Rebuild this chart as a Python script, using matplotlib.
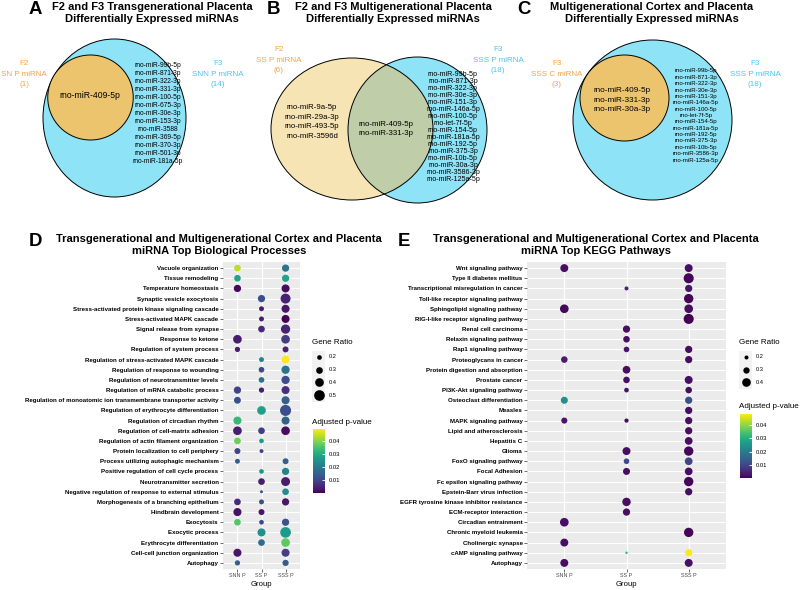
import numpy as np
import matplotlib.pyplot as plt
from matplotlib.patches import Ellipse, Rectangle
from matplotlib.colors import Normalize
from matplotlib.cm import ScalarMappable

plt.rcParams['font.family'] = ['Liberation Sans', 'DejaVu Sans']

W, H = 800, 590

# ---------------- Venn contents ----------------
a_f2_only = []
a_shared = ['rno-miR-409-5p']
a_f3_only = ['rno-miR-99b-5p', 'rno-miR-871-3p', 'rno-miR-322-3p', 'rno-miR-331-3p',
             'rno-miR-100-5p', 'rno-miR-675-3p', 'rno-miR-30e-3p', 'rno-miR-153-3p',
             'rno-miR-3588', 'rno-miR-369-5p', 'rno-miR-370-3p', 'rno-miR-501-3p',
             'rno-miR-181a-5p']

b_f2_only = ['rno-miR-9a-5p', 'rno-miR-29a-3p', 'rno-miR-493-5p', 'rno-miR-3596d']
b_shared = ['rno-miR-409-5p', 'rno-miR-331-3p']
b_f3_only = ['rno-miR-99b-5p', 'rno-miR-871-3p', 'rno-miR-322-3p', 'rno-miR-30e-3p',
             'rno-miR-151-3p', 'rno-miR-146a-5p', 'rno-miR-100-5p', 'rno-let-7f-5p',
             'rno-miR-154-5p', 'rno-miR-181a-5p', 'rno-miR-192-5p', 'rno-miR-375-3p',
             'rno-miR-10b-5p', 'rno-miR-30a-3p', 'rno-miR-3586-3p', 'rno-miR-125a-5p']

c_c_only = []
c_shared = ['rno-miR-409-5p', 'rno-miR-331-3p', 'rno-miR-30a-3p']
c_p_only = ['rno-miR-99b-5p', 'rno-miR-871-3p', 'rno-miR-322-3p', 'rno-miR-30e-3p',
            'rno-miR-151-3p', 'rno-miR-146a-5p', 'rno-miR-100-5p', 'rno-let-7f-5p',
            'rno-miR-154-5p', 'rno-miR-181a-5p', 'rno-miR-192-5p', 'rno-miR-375-3p',
            'rno-miR-10b-5p', 'rno-miR-3586-3p', 'rno-miR-125a-5p']

# ---------------- D: biological processes ----------------
groups = ['SNN P', 'SS P', 'SSS P']
N = None
bp_terms = ['Vacuole organization', 'Tissue remodeling', 'Temperature homeostasis',
            'Synaptic vesicle exocytosis', 'Stress-activated protein kinase signaling cascade',
            'Stress-activated MAPK cascade', 'Signal release from synapse', 'Response to ketone',
            'Regulation of system process', 'Regulation of stress-activated MAPK cascade',
            'Regulation of response to wounding', 'Regulation of neurotransmitter levels',
            'Regulation of mRNA catabolic process',
            'Regulation of monoatomic ion transmembrane transporter activity',
            'Regulation of erythrocyte differentiation', 'Regulation of circadian rhythm',
            'Regulation of cell-matrix adhesion', 'Regulation of actin filament organization',
            'Protein localization to cell periphery', 'Process utilizing autophagic mechanism',
            'Positive regulation of cell cycle process', 'Neurotransmitter secretion',
            'Negative regulation of response to external stimulus',
            'Morphogenesis of a branching epithelium', 'Hindbrain development', 'Exocytosis',
            'Exocytic process', 'Erythrocyte differentiation', 'Cell-cell junction organization',
            'Autophagy']
bp_ratio_snn = [0.30, 0.30, 0.33, N, N, N, N, 0.40, 0.23, N, N, N, 0.33, 0.31, N,
                0.37, 0.40, 0.30, 0.265, 0.215, N, N, N, 0.30, 0.37, 0.30, N, N, 0.37, 0.23]
bp_padj_snn = [0.044, 0.029, 0.001, N, N, N, N, 0.004, 0.004, N, N, N, 0.010, 0.012, N,
               0.033, 0.004, 0.038, 0.010, 0.015, N, N, N, 0.006, 0.0025, 0.036, N, N, 0.003, 0.015]
bp_ratio_ss = [N, N, N, 0.33, 0.215, 0.215, 0.30, N, N, 0.215, 0.25, 0.25, 0.23, N, 0.40,
               N, 0.30, 0.20, 0.165, N, 0.20, 0.30, 0.115, 0.215, 0.265, 0.20, 0.37, 0.30, N, N]
bp_padj_ss = [N, N, N, 0.012, 0.004, 0.004, 0.006, N, N, 0.022, 0.011, 0.018, 0.004, N, 0.028,
              N, 0.009, 0.027, 0.010, N, 0.026, 0.004, 0.012, 0.012, 0.003, 0.011, 0.025, 0.017, N, N]
bp_ratio_sss = [0.33, 0.33, 0.37, 0.465, 0.37, 0.37, 0.43, 0.40, 0.265, 0.37, 0.38, 0.38, 0.37,
                0.37, 0.52, 0.37, 0.40, N, N, 0.265, 0.33, 0.415, 0.30, 0.33, N, 0.33, 0.50,
                0.40, 0.37, 0.28]
bp_padj_sss = [0.019, 0.029, 0.002, 0.005, 0.003, 0.0003, 0.005, 0.009, 0.005, 0.049, 0.019,
               0.012, 0.007, 0.015, 0.012, 0.015, 0.002, N, N, 0.015, 0.022, 0.004, 0.024, 0.003,
               N, 0.013, 0.027, 0.037, 0.009, 0.014]

# ---------------- E: KEGG pathways ----------------
kegg_terms = ['Wnt signaling pathway', 'Type II diabetes mellitus',
              'Transcriptional misregulation in cancer', 'Toll-like receptor signaling pathway',
              'Sphingolipid signaling pathway', 'RIG-I-like receptor signaling pathway',
              'Renal cell carcinoma', 'Relaxin signaling pathway', 'Rap1 signaling pathway',
              'Proteoglycans in cancer', 'Protein digestion and absorption', 'Prostate cancer',
              'PI3K-Akt signaling pathway', 'Osteoclast differentiation', 'Measles',
              'MAPK signaling pathway', 'Lipid and atherosclerosis', 'Hepatitis C', 'Glioma',
              'FoxO signaling pathway', 'Focal Adhesion', 'Fc epsilon signaling pathway',
              'Epstein-Barr virus infection', 'EGFR tyrosine kinase inhibitor resistance',
              'ECM-receptor interaction', 'Circadian entrainment', 'Chronic myeloid leukemia',
              'Cholinergic synapse', 'cAMP signaling pathway', 'Autophagy']
kegg_ratio_snn = [0.37, N, N, N, 0.40, N, N, N, N, 0.31, N, N, N, 0.33, N, 0.29, N, N, N, N,
                  N, N, N, N, N, 0.40, N, 0.37, N, 0.37]
kegg_padj_snn = [0.002, N, N, N, 0.001, N, N, N, N, 0.004, N, N, N, 0.024, N, 0.003, N, N, N, N,
                 N, N, N, N, N, 0.002, N, 0.002, N, 0.002]
kegg_ratio_ss = [N, N, 0.20, N, N, N, 0.34, 0.31, 0.27, N, 0.36, 0.31, 0.23, N, N, 0.21, N, N,
                 0.37, 0.27, 0.33, N, N, 0.39, 0.34, N, N, N, 0.13, N]
kegg_padj_ss = [N, N, 0.005, N, N, N, 0.002, 0.002, 0.003, N, 0.002, 0.002, 0.003, N, N, 0.002,
                N, N, 0.002, 0.011, 0.002, N, N, 0.002, 0.002, N, N, N, 0.030, N]
kegg_ratio_sss = [0.37, 0.46, 0.34, 0.43, 0.40, 0.46, N, N, 0.34, 0.34, N, 0.37, 0.31, 0.34,
                  0.34, 0.34, 0.34, 0.36, 0.43, 0.36, 0.36, 0.43, 0.34, N, N, N, 0.43, N, 0.34, 0.37]
kegg_padj_sss = [0.002, 0.001, 0.003, 0.001, 0.002, 0.0003, N, N, 0.002, 0.002, N, 0.002, 0.002,
                 0.012, 0.002, 0.002, 0.002, 0.002, 0.001, 0.010, 0.002, 0.001, 0.002, N, N, N,
                 0.001, N, 0.048, 0.002]

ORANGE_TXT = '#F3A444'
BLUE_TXT = '#4FC3F0'
BLUE_FILL = '#8EE4F6'
ORANGE_FILL = '#ECC46E'
PALE_FILL = '#F6E4B4'
MIX_FILL = '#BFCDA8'


def fx(px):
    return px / W


def fy(py):
    return 1 - py / H


fig = plt.figure(figsize=(8, 5.9), dpi=100)
ov = fig.add_axes([0, 0, 1, 1])
ov.set_xlim(0, W)
ov.set_ylim(H, 0)
ov.axis('off')


def title(x, y, txt, letter, lx, ly):
    ov.text(x, y, txt, ha='center', va='center', fontsize=8, fontweight='bold', linespacing=1.2)
    ov.text(lx, ly, letter, ha='center', va='center', fontsize=13.4, fontweight='bold')


def block(x, y, items, fs, ls, color='black'):
    ov.text(x, y, '\n'.join(items), ha='center', va='center', fontsize=fs, linespacing=ls,
            color=color)


# ---- A ----
title(152, 13, 'F2 and F3 Transgenerational Placenta\nDifferentially Expressed miRNAs', 'A', 35, 10)
ov.add_patch(Ellipse((114.5, 118), 143, 158, fc=BLUE_FILL, ec='black', lw=0.7))
ov.add_patch(Ellipse((90.5, 97.5), 85.5, 85, fc=ORANGE_FILL, ec='black', lw=0.7))
block(90, 95, a_shared, 6.2, 1.4)
block(158, 113.5, a_f3_only, 4.8, 1.21)
block(24, 74, ['F2', 'SN P miRNA', '(%d)' % (len(a_f2_only) + len(a_shared))], 5.8, 1.7, ORANGE_TXT)
block(218, 74, ['F3', 'SNN P miRNA', '(%d)' % (len(a_f3_only) + len(a_shared))], 5.8, 1.7, BLUE_TXT)

# ---- B ----
title(393, 13, 'F2 and F3 Multigenerational Placenta\nDifferentially Expressed miRNAs', 'B', 273, 10)
left = Ellipse((352, 129), 162, 142, fc=PALE_FILL, ec='none')
right = Ellipse((417.5, 130), 139, 146, fc=BLUE_FILL, ec='none')
ov.add_patch(left)
ov.add_patch(right)
mix = Ellipse((352, 129), 162, 142, fc=MIX_FILL, ec='none')
ov.add_patch(mix)
mix.set_clip_path(right)
ov.add_patch(Ellipse((352, 129), 162, 142, fc='none', ec='black', lw=0.7))
ov.add_patch(Ellipse((417.5, 130), 139, 146, fc='none', ec='black', lw=0.7))
block(312, 122, b_f2_only, 5.6, 1.52)
block(386, 129, b_shared, 5.7, 1.45)
block(453, 127, b_f3_only, 5.1, 1.0)
block(279, 60, ['F2', 'SS P miRNA', '(%d)' % (len(b_f2_only) + len(b_shared))], 5.8, 1.7, ORANGE_TXT)
block(498, 60, ['F3', 'SSS P miRNA', '(%d)' % (len(b_f3_only) + len(b_shared))], 5.8, 1.7, BLUE_TXT)

# ---- C ----
title(652, 13, 'Multigenerational Cortex and Placenta\nDifferentially Expressed miRNAs', 'C', 524, 10)
ov.add_patch(Ellipse((652.5, 120), 159, 160, fc=BLUE_FILL, ec='black', lw=0.7))
ov.add_patch(Ellipse((624.5, 98), 89, 86, fc=ORANGE_FILL, ec='black', lw=0.7))
block(622, 100, c_shared, 5.9, 1.45)
block(696, 115.5, c_p_only, 4.4, 1.34)
block(557, 74, ['F3', 'SSS C miRNA', '(%d)' % (len(c_c_only) + len(c_shared))], 5.8, 1.7, ORANGE_TXT)
block(755, 74, ['F3', 'SSS P miRNA', '(%d)' % (len(c_p_only) + len(c_shared))], 5.8, 1.7, BLUE_TXT)


# ---------------- dot plots ----------------
def size_d(r):
    return ((14 + 60 * (r - 0.2)) / 3 * 0.72) ** 2


def size_e(r):
    return ((12 + 70 * (r - 0.2)) / 3 * 0.72) ** 2


def dot_panel(rect, terms, ratios, padjs, size_fn, norm):
    ax = fig.add_axes(rect)
    for gi, (r, p) in enumerate(zip(ratios, padjs)):
        rows = [i for i, v in enumerate(r) if v is not None]
        ax.scatter([gi] * len(rows), rows, s=[size_fn(r[i]) for i in rows],
                   c=[p[i] for i in rows], cmap='viridis', norm=norm, linewidths=0, zorder=3)
    ax.set_facecolor('#EBEBEB')
    ax.set_xlim(-0.6, 2.6)
    ax.set_ylim(len(terms) - 0.4, -0.6)
    ax.set_xticks(range(len(groups)))
    ax.set_xticklabels(groups, fontsize=3.9, color='#4D4D4D')
    ax.set_yticks(range(len(terms)))
    ax.set_yticklabels(terms, fontsize=4.4, fontweight='bold')
    ax.grid(color='white', lw=0.8)
    ax.set_axisbelow(True)
    for s in ax.spines.values():
        s.set_visible(False)
    ax.tick_params(length=2, width=0.5, color='#333333', pad=1.2)
    return ax


def legend_block(x0, ty, ratios, size_fn, cy, norm):
    ov.text(x0, ty, 'Gene Ratio', fontsize=5.8, va='center', ha='left')
    for k, r in enumerate(ratios):
        yy = ty + 15 + 12.7 * k
        ov.add_patch(Rectangle((x0, yy - 6.3), 13, 12.7, fc='#F2F2F2', ec='none'))
        ov.scatter([x0 + 6.5], [yy], s=size_fn(r), c='black', linewidths=0)
        ov.text(x0 + 17, yy, '%.1f' % r, fontsize=4.1, va='center', ha='left')
    ov.text(x0, cy - 7, 'Adjusted p-value', fontsize=5.8, va='center', ha='left')
    cax = fig.add_axes([fx(x0 + 0.5), fy(cy + 64), fx(12.5), 64 / H])
    cb = fig.colorbar(ScalarMappable(norm=norm, cmap='viridis'), cax=cax)
    cb.set_ticks([0.01, 0.02, 0.03, 0.04])
    cb.outline.set_visible(False)
    cax.tick_params(direction='in', color='white', length=2.5, width=0.6, labelsize=4.2, pad=2.5)


def vals(*lists):
    return [v for l in lists for v in l if v is not None]


p_d = vals(bp_padj_snn, bp_padj_ss, bp_padj_sss)
norm_d = Normalize(min(p_d), max(p_d))
dot_panel([fx(223), fy(569), fx(77), 307 / H], bp_terms,
          [bp_ratio_snn, bp_ratio_ss, bp_ratio_sss],
          [bp_padj_snn, bp_padj_ss, bp_padj_sss], size_d, norm_d)
legend_block(312, 342, [0.2, 0.3, 0.4, 0.5], size_d, 429, norm_d)
ov.text(261.5, 584, 'Group', fontsize=5.6, ha='center', va='center')
title(219, 245, 'Transgenerational and Multigenerational Cortex and Placenta\n'
      'miRNA Top Biological Processes', 'D', 35, 241)

p_e = vals(kegg_padj_snn, kegg_padj_ss, kegg_padj_sss)
norm_e = Normalize(min(p_e), max(p_e))
dot_panel([fx(527), fy(569), fx(199), 307 / H], kegg_terms,
          [kegg_ratio_snn, kegg_ratio_ss, kegg_ratio_sss],
          [kegg_padj_snn, kegg_padj_ss, kegg_padj_sss], size_e, norm_e)
legend_block(739, 342, [0.2, 0.3, 0.4], size_e, 414, norm_e)
ov.text(626.5, 584, 'Group', fontsize=5.6, ha='center', va='center')
title(596, 245, 'Transgenerational and Multigenerational Cortex and Placenta\n'
      'miRNA Top KEGG Pathways', 'E', 404, 241)

fig.savefig('out.png', dpi=100)
